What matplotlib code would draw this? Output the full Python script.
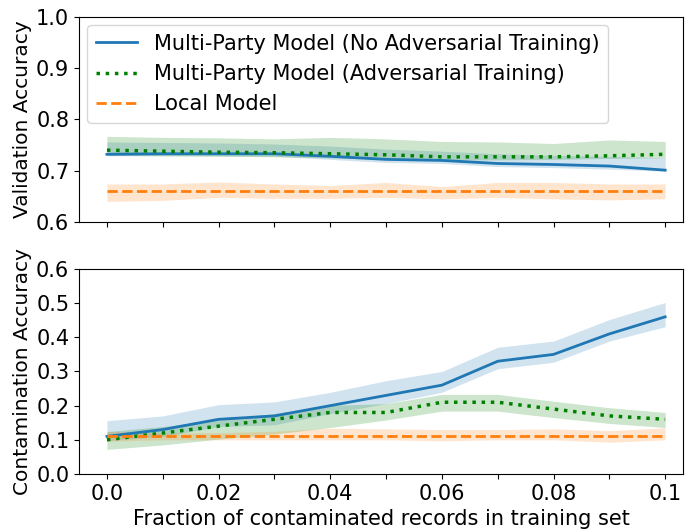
import matplotlib
matplotlib.use("Agg")
import matplotlib.pyplot as plt
import numpy as np

# fraction of contaminated records
fractions = [0.0, 0.01, 0.02, 0.03, 0.04, 0.05, 0.06, 0.07, 0.08, 0.09, 0.1]

# validation accuracy (top panel)
val_no_adv = [0.732, 0.733, 0.733, 0.733, 0.728, 0.722, 0.720, 0.714, 0.712, 0.709, 0.701]
val_no_adv_lo = [0.729, 0.729, 0.729, 0.728, 0.722, 0.716, 0.714, 0.708, 0.706, 0.703, 0.699]
val_no_adv_hi = [0.756, 0.755, 0.754, 0.752, 0.748, 0.742, 0.738, 0.733, 0.730, 0.728, 0.725]
val_adv = [0.740, 0.738, 0.736, 0.735, 0.733, 0.731, 0.727, 0.727, 0.727, 0.729, 0.732]
val_adv_lo = [0.730, 0.729, 0.728, 0.727, 0.725, 0.723, 0.721, 0.721, 0.722, 0.724, 0.725]
val_adv_hi = [0.767, 0.765, 0.764, 0.762, 0.765, 0.762, 0.757, 0.756, 0.753, 0.760, 0.757]
val_local = [0.660, 0.660, 0.660, 0.660, 0.660, 0.660, 0.660, 0.660, 0.660, 0.660, 0.660]
val_local_lo = [0.640, 0.642, 0.648, 0.646, 0.646, 0.648, 0.645, 0.648, 0.645, 0.643, 0.645]
val_local_hi = [0.674, 0.674, 0.678, 0.674, 0.671, 0.677, 0.669, 0.677, 0.677, 0.674, 0.674]

# contamination accuracy (bottom panel)
con_no_adv = [0.11, 0.13, 0.16, 0.17, 0.20, 0.23, 0.26, 0.33, 0.35, 0.41, 0.46]
con_no_adv_lo = [0.098, 0.110, 0.139, 0.144, 0.177, 0.206, 0.239, 0.308, 0.327, 0.389, 0.431]
con_no_adv_hi = [0.156, 0.170, 0.203, 0.211, 0.239, 0.273, 0.300, 0.371, 0.389, 0.452, 0.502]
con_adv = [0.10, 0.12, 0.14, 0.16, 0.18, 0.18, 0.21, 0.21, 0.19, 0.17, 0.16]
con_adv_lo = [0.072, 0.085, 0.102, 0.117, 0.136, 0.158, 0.184, 0.184, 0.165, 0.148, 0.136]
con_adv_hi = [0.124, 0.139, 0.158, 0.177, 0.201, 0.206, 0.233, 0.233, 0.213, 0.194, 0.180]
con_local = [0.11, 0.11, 0.11, 0.11, 0.11, 0.11, 0.11, 0.11, 0.11, 0.11, 0.11]
con_local_lo = [0.096, 0.100, 0.100, 0.100, 0.100, 0.100, 0.097, 0.100, 0.100, 0.093, 0.100]
con_local_hi = [0.125, 0.120, 0.121, 0.125, 0.134, 0.132, 0.130, 0.130, 0.132, 0.127, 0.135]

labels = ["Multi-Party Model (No Adversarial Training)",
          "Multi-Party Model (Adversarial Training)",
          "Local Model"]

BLUE = "#1f77b4"
GREEN = "green"
ORANGE = "#ff7f0e"
FS = 15

plt.rcParams["font.family"] = "DejaVu Sans"

fig = plt.figure(figsize=(6.86, 5.29), dpi=100)
ax_top = fig.add_axes([0.1152, 0.5805, 0.8805, 0.3875])
ax_bot = fig.add_axes([0.1152, 0.1040, 0.8805, 0.3875])


def draw_panel(ax, series):
    for (mid, lo, hi, color, style, lw, label) in series:
        ax.plot(fractions, mid, color=color, linestyle=style, linewidth=lw,
                label=label)
        ax.fill_between(fractions, lo, hi, color=color, alpha=0.2,
                        linewidth=0)


draw_panel(ax_top, [
    (val_no_adv, val_no_adv_lo, val_no_adv_hi, BLUE, "-", 2.0, labels[0]),
    (val_adv, val_adv_lo, val_adv_hi, GREEN, ":", 2.5, labels[1]),
    (val_local, val_local_lo, val_local_hi, ORANGE, "--", 2.0, labels[2]),
])
draw_panel(ax_bot, [
    (con_no_adv, con_no_adv_lo, con_no_adv_hi, BLUE, "-", 2.0, labels[0]),
    (con_adv, con_adv_lo, con_adv_hi, GREEN, ":", 2.5, labels[1]),
    (con_local, con_local_lo, con_local_hi, ORANGE, "--", 2.0, labels[2]),
])

xticks = np.arange(0, 0.1001, 0.01)
xticklabels = ["0.0", "", "0.02", "", "0.04", "", "0.06", "", "0.08", "", "0.1"]

for ax in (ax_top, ax_bot):
    ax.set_xlim(-0.005, 0.1032)
    ax.set_xticks(xticks)
    ax.tick_params(labelsize=FS)

ax_top.set_xticklabels([])
ax_bot.set_xticklabels(xticklabels)

ax_top.set_ylim(0.6, 1.0)
ax_top.set_yticks([0.6, 0.7, 0.8, 0.9, 1.0])
ax_bot.set_ylim(0.0, 0.6)
ax_bot.set_yticks([0.0, 0.1, 0.2, 0.3, 0.4, 0.5, 0.6])

ax_top.set_ylabel("Validation Accuracy", fontsize=14.5)
ax_bot.set_ylabel("Contamination Accuracy", fontsize=14.5)
ax_bot.set_xlabel("Fraction of contaminated records in training set",
                  fontsize=FS, labelpad=4)
ax_top.yaxis.set_label_coords(-0.078, 0.5)
ax_bot.yaxis.set_label_coords(-0.078, 0.5)

ax_top.legend(loc="upper left", fontsize=FS, bbox_to_anchor=(0.0, 1.0),
              borderaxespad=0.4)

fig.savefig("out.png", dpi=100)
